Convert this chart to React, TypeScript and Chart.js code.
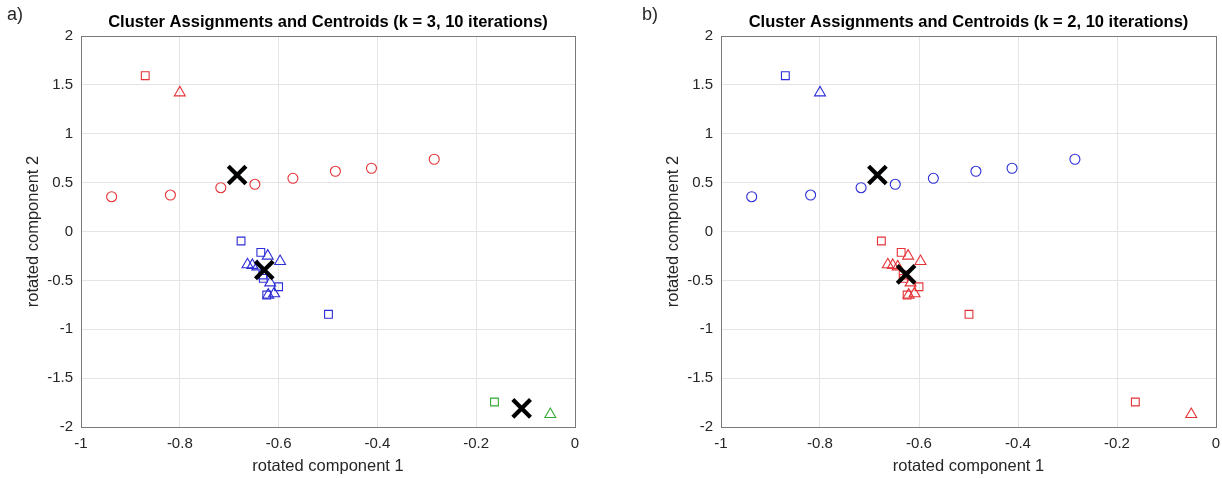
import React, { useEffect, useRef } from "react";
import { Chart, registerables } from "chart.js";

Chart.register(...registerables);

// ---- tick labels ----
const xTickValues = [-1, -0.8, -0.6, -0.4, -0.2, 0];
const yTickValues = [-2, -1.5, -1, -0.5, 0, 0.5, 1, 1.5, 2];

// ---- observations (rotated component 1 / 2), grouped by marker shape ----
const circleX = [-0.938, -0.819, -0.717, -0.648, -0.571, -0.485, -0.412, -0.285];
const circleY = [0.356, 0.373, 0.448, 0.483, 0.544, 0.616, 0.647, 0.739];

const upperSquareX = [-0.87];
const upperSquareY = [1.594];
const upperTriangleX = [-0.8];
const upperTriangleY = [1.42];

const lowerSquareX = [-0.676, -0.636, -0.632, -0.631, -0.6, -0.624, -0.499];
const lowerSquareY = [-0.097, -0.213, -0.445, -0.479, -0.565, -0.65, -0.847];
const lowerTriangleX = [-0.622, -0.597, -0.663, -0.653, -0.643, -0.617, -0.609, -0.621];
const lowerTriangleY = [-0.25, -0.305, -0.339, -0.345, -0.36, -0.524, -0.636, -0.649];

const farSquareX = [-0.163];
const farSquareY = [-1.744];
const farTriangleX = [-0.05];
const farTriangleY = [-1.87];

// ---- centroids ----
const centroidK3X = [-0.684, -0.629, -0.108];
const centroidK3Y = [0.578, -0.394, -1.809];
const centroidK2X = [-0.684, -0.626];
const centroidK2Y = [0.578, -0.438];

const RED = "rgb(228,50,55)";
const BLUE = "rgb(45,45,215)";
const GREEN = "rgb(50,170,50)";
const FONT = "'Liberation Sans', Arial, Helvetica, sans-serif";

const pts = (xs: number[], ys: number[]) => xs.map((x, i) => ({ x, y: ys[i] }));

function markerSet(xs: number[], ys: number[], color: string, style: string, radius: number) {
  return {
    data: pts(xs, ys),
    pointStyle: style,
    pointRadius: radius,
    borderColor: color,
    backgroundColor: "rgba(0,0,0,0)",
    pointBorderWidth: 1.1,
    showLine: false,
  };
}

function centroidSet(xs: number[], ys: number[]) {
  return {
    data: pts(xs, ys),
    pointStyle: "crossRot",
    pointRadius: 12.5,
    borderColor: "#000",
    backgroundColor: "#000",
    pointBorderWidth: 4.2,
    showLine: false,
  };
}

const boxPlugin = {
  id: "boxPlugin",
  beforeDatasetsDraw(chart: any) {
    const { ctx, chartArea } = chart;
    ctx.save();
    ctx.strokeStyle = "#7a7a7a";
    ctx.lineWidth = 1;
    ctx.strokeRect(
      Math.round(chartArea.left) + 0.5,
      Math.round(chartArea.top) + 0.5,
      Math.round(chartArea.right - chartArea.left),
      Math.round(chartArea.bottom - chartArea.top)
    );
    ctx.restore();
  },
};

function Panel(props: { width: number; rightPad: number; title: string; datasets: any[] }) {
  const ref = useRef<HTMLCanvasElement | null>(null);
  useEffect(() => {
    if (!ref.current) return;
    const chart = new Chart(ref.current, {
      type: "scatter",
      data: { datasets: props.datasets },
      plugins: [boxPlugin],
      options: {
        animation: false,
        responsive: false,
        maintainAspectRatio: false,
        devicePixelRatio: 1,
        layout: { autoPadding: false, padding: { left: 21, right: props.rightPad, top: 0, bottom: 0 } },
        plugins: {
          legend: { display: false },
          tooltip: { enabled: false },
          title: {
            display: true,
            text: props.title,
            fullSize: false,
            color: "#000",
            font: { family: FONT, size: 16.5, weight: "bold" },
            padding: { top: 12.1, bottom: 4.1 },
          },
        },
        scales: {
          x: {
            type: "linear",
            min: -1,
            max: 0,
            afterBuildTicks: (s: any) => {
              s.ticks = xTickValues.map((v) => ({ value: v }));
            },
            afterFit: (s: any) => {
              s.height = 51;
              s.paddingLeft = 0;
              s.paddingRight = 0;
            },
            grid: { color: "#e4e4e4", drawTicks: false },
            border: { display: false },
            ticks: {
              padding: 8,
              color: "#262626",
              font: { family: FONT, size: 15 },
              maxRotation: 0,
              autoSkip: false,
              callback: (v: any) => String(v),
            },
            title: {
              display: true,
              text: "rotated component 1",
              color: "#262626",
              font: { family: FONT, size: 16.5 },
              padding: { top: 1, bottom: 1.2 },
            },
          },
          y: {
            type: "linear",
            min: -2,
            max: 2,
            afterBuildTicks: (s: any) => {
              s.ticks = yTickValues.map((v) => ({ value: v }));
            },
            afterFit: (s: any) => {
              s.width = 60;
              s.paddingTop = 0;
              s.paddingBottom = 0;
            },
            grid: { color: "#e4e4e4", drawTicks: false },
            border: { display: false },
            ticks: {
              padding: 8,
              color: "#262626",
              font: { family: FONT, size: 15 },
              autoSkip: false,
              callback: (v: any) => String(v),
            },
            title: {
              display: true,
              text: "rotated component 2",
              color: "#262626",
              font: { family: FONT, size: 16.5 },
              padding: { top: 2.1, bottom: 1 },
            },
          },
        },
      } as any,
    });
    return () => chart.destroy();
  }, []);
  return (
    <canvas
      ref={ref}
      width={props.width}
      height={478}
      style={{ display: "block", width: props.width, height: 478 }}
    />
  );
}

export default function App() {
  const leftSets = [
    centroidSet(centroidK3X, centroidK3Y),
    markerSet(circleX, circleY, RED, "circle", 5),
    markerSet(upperSquareX, upperSquareY, RED, "rect", 5.5),
    markerSet(upperTriangleX, upperTriangleY, RED, "triangle", 6.3),
    markerSet(lowerSquareX, lowerSquareY, BLUE, "rect", 5.5),
    markerSet(lowerTriangleX, lowerTriangleY, BLUE, "triangle", 6.3),
    markerSet(farSquareX, farSquareY, GREEN, "rect", 5.5),
    markerSet(farTriangleX, farTriangleY, GREEN, "triangle", 6.3),
  ];
  const rightSets = [
    centroidSet(centroidK2X, centroidK2Y),
    markerSet(circleX, circleY, BLUE, "circle", 5),
    markerSet(upperSquareX, upperSquareY, BLUE, "rect", 5.5),
    markerSet(upperTriangleX, upperTriangleY, BLUE, "triangle", 6.3),
    markerSet(lowerSquareX, lowerSquareY, RED, "rect", 5.5),
    markerSet(lowerTriangleX, lowerTriangleY, RED, "triangle", 6.3),
    markerSet(farSquareX, farSquareY, RED, "rect", 5.5),
    markerSet(farTriangleX, farTriangleY, RED, "triangle", 6.3),
  ];
  const labelStyle: React.CSSProperties = {
    position: "absolute",
    top: 4,
    fontFamily: FONT,
    fontSize: 18,
    color: "#262626",
  };
  return (
    <div style={{ position: "absolute", left: 0, top: 0, width: 1222, height: 478, background: "#fff" }}>
      <div style={{ position: "absolute", left: 0, top: 0 }}>
        <Panel width={640} rightPad={65} title="Cluster Assignments and Centroids (k = 3, 10 iterations)" datasets={leftSets} />
      </div>
      <div style={{ position: "absolute", left: 640, top: 0 }}>
        <Panel width={582} rightPad={6} title="Cluster Assignments and Centroids (k = 2, 10 iterations)" datasets={rightSets} />
      </div>
      <div style={{ ...labelStyle, left: 7 }}>a)</div>
      <div style={{ ...labelStyle, left: 642 }}>b)</div>
    </div>
  );
}
